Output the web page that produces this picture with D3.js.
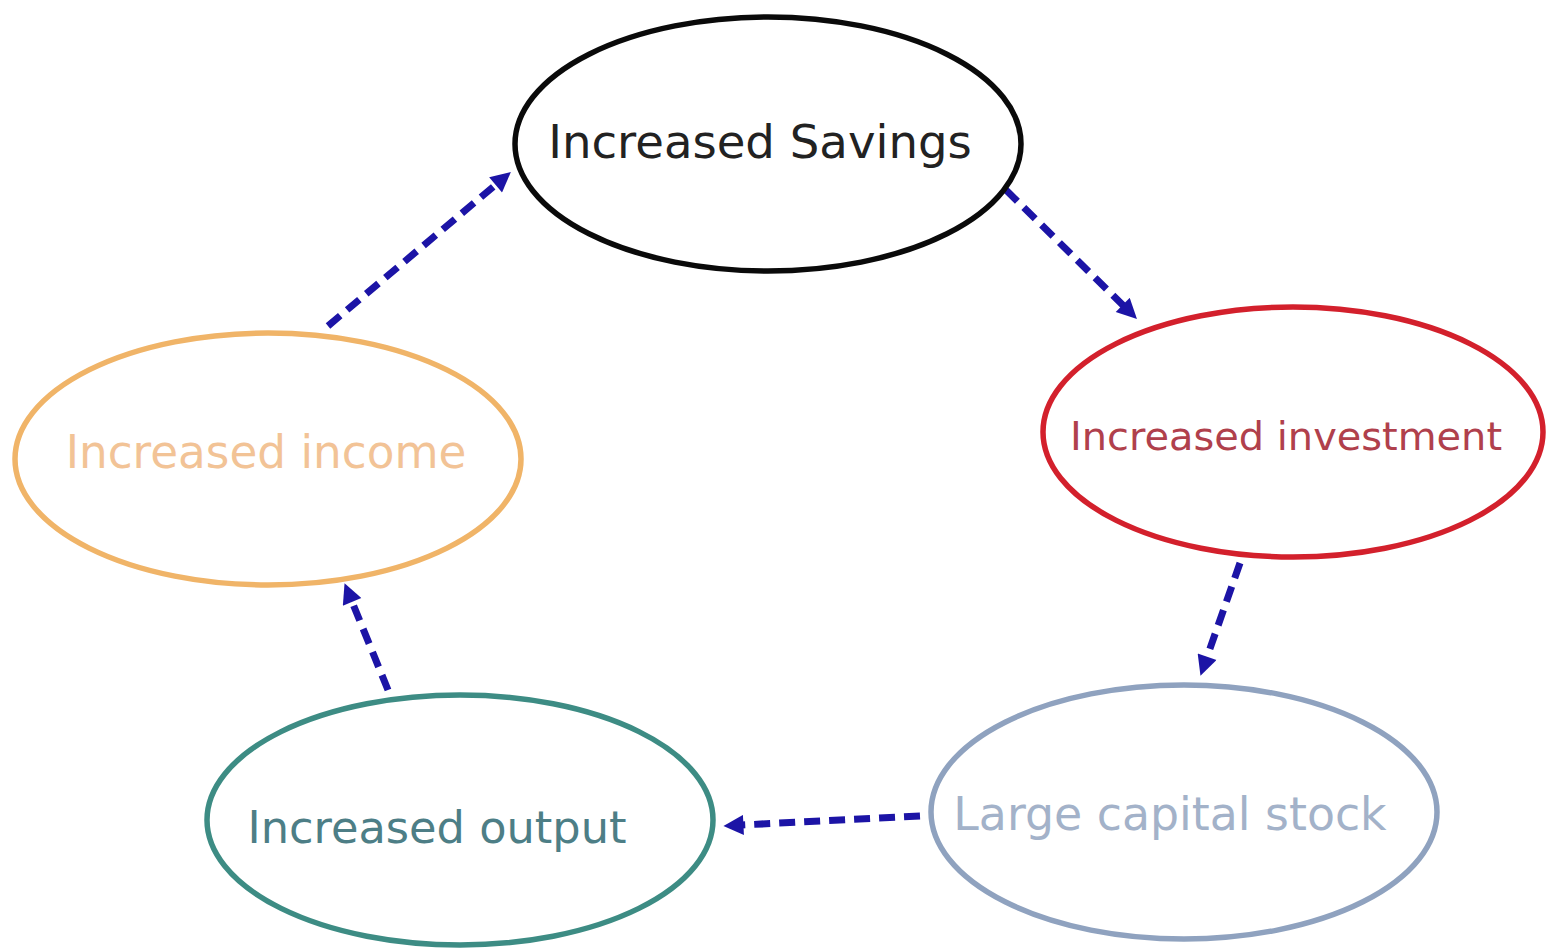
<html>
<style>
  body { margin: 0; background: #fff; }
  svg { display: block; }
  .node ellipse { fill: none; stroke-width: 5.5px; }
  .node text { font-family: "DejaVu Sans", sans-serif; text-anchor: middle; }
  .link { fill: none; stroke: #1c14a6; stroke-width: 7px; stroke-dasharray: 16,9; }
</style>
<script src="https://d3js.org/d3.v7.min.js"></script>
<body>
<div id="container"></div>
<script>

// the cycle, in order
const labels = ["Increased Savings", "Increased investment", "Large capital stock", "Increased output", "Increased income"];
const strokeColors = ["#0a0a0a", "#d3202c", "#8fa2bf", "#3d8c84", "#f0b468"];
const textColors = ["#222222", "#b0404c", "#a3b2c9", "#4d7e86", "#f2c396"];
// arrows: from -> to (index into labels)
const links = [[0, 1], [1, 2], [2, 3], [3, 4], [4, 0]];

// layout (pixels)
const centers = [[768, 144], [1293, 432], [1184, 812], [460, 820], [268, 459]];
const radii = [[253, 127], [250, 125], [253, 127], [253, 125], [253, 126]];
const textWidths = [424, 432, 433, 379, 401];
const baselines = [158, 450, 830, 843, 468];
const textX = [760, 1286, 1170, 437, 266];
// arrow start / tip points, roughly where they sit between the ellipses
const arrowEnds = [
  [[1006, 190], [1138, 320]],
  [[1240, 563], [1200, 677]],
  [[920, 816], [722, 826]],
  [[388, 690], [344, 582]],
  [[328, 326], [512, 171]]
];

const W = 1546, H = 950;
const headLen = 22, back = 16;
const svg = d3.select("#container").append("svg").attr("width", W).attr("height", H);

svg.append("defs").append("marker")
  .attr("id", "head")
  .attr("viewBox", "0 0 10 10")
  .attr("refX", 10 * (headLen - back) / headLen).attr("refY", 5)
  .attr("markerUnits", "userSpaceOnUse")
  .attr("markerWidth", headLen).attr("markerHeight", 20)
  .attr("orient", "auto")
  .append("path").attr("d", "M0,0 L10,5 L0,10 z").attr("fill", "#1c14a6");

const color = d3.scaleOrdinal().domain(labels).range(strokeColors);
const tcolor = d3.scaleOrdinal().domain(labels).range(textColors);

const line = d3.line();

svg.selectAll(".link")
  .data(links)
  .join("path")
  .attr("class", "link")
  .attr("d", (d, i) => {
    const [a, b] = arrowEnds[i];
    // stop the dashes short so the head's tip lands on the end point
    const dx = b[0] - a[0], dy = b[1] - a[1], L = Math.hypot(dx, dy);
    const e = [b[0] - dx / L * back, b[1] - dy / L * back];
    return line([a, e]);
  })
  .attr("marker-end", "url(#head)");

const node = svg.selectAll(".node")
  .data(labels)
  .join("g")
  .attr("class", "node");

node.append("ellipse")
  .attr("cx", (d, i) => centers[i][0])
  .attr("cy", (d, i) => centers[i][1])
  .attr("rx", (d, i) => radii[i][0])
  .attr("ry", (d, i) => radii[i][1])
  .attr("stroke", d => color(d));

node.append("text")
  .attr("x", (d, i) => textX[i])
  .attr("y", (d, i) => baselines[i])
  .attr("fill", d => tcolor(d))
  .style("font-size", "40px")
  .text(d => d)
  .each(function (d, i) {
    // fit font size to the width in the picture
    const w = this.getComputedTextLength();
    d3.select(this).style("font-size", (40 * textWidths[i] / w).toFixed(1) + "px");
  });

</script>
</body>
</html>
